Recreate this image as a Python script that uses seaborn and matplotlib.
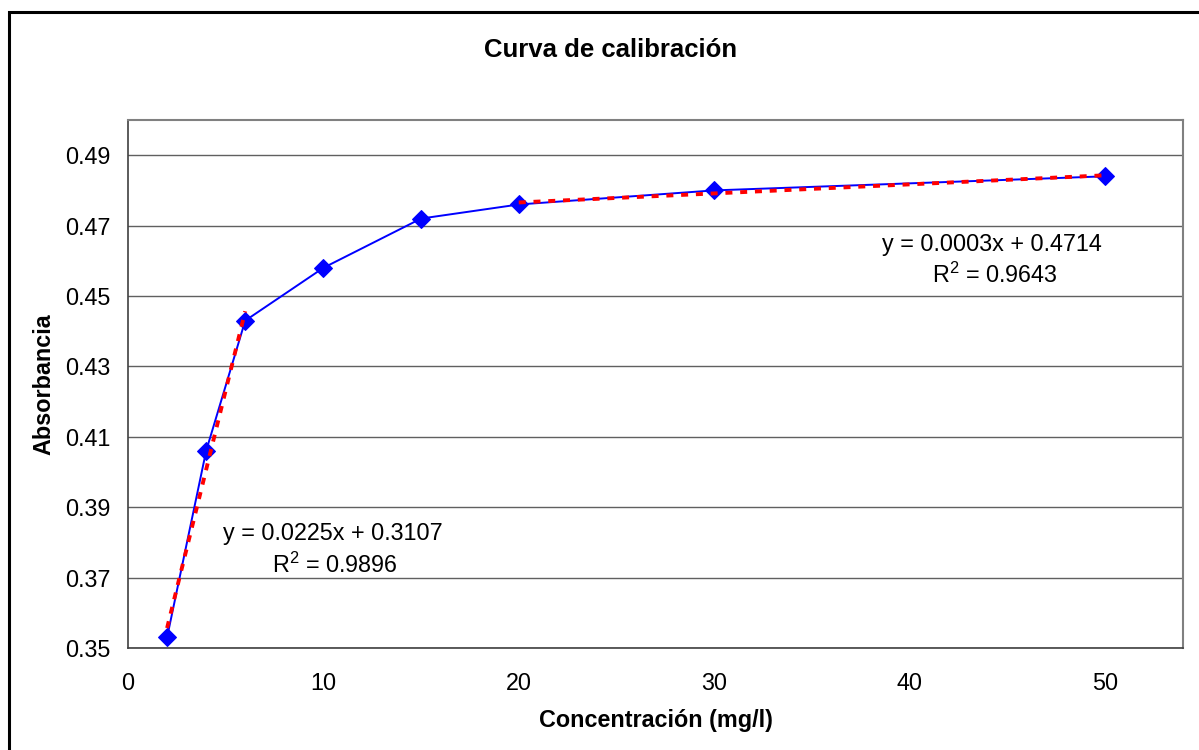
import numpy as np
import pandas as pd
import matplotlib
matplotlib.use("Agg")
import matplotlib.pyplot as plt
from matplotlib.patches import Rectangle
import seaborn as sns

# Calibration data
concentracion = [2, 4, 6, 10, 15, 20, 30, 50]
absorbancia = [0.353, 0.406, 0.443, 0.458, 0.472, 0.476, 0.480, 0.484]

# Points used for each linear trend line
tramo_bajo = [0, 1, 2]
tramo_alto = [5, 6, 7]

y_ticks = [0.35, 0.37, 0.39, 0.41, 0.43, 0.45, 0.47, 0.49]
x_ticks = [0, 10, 20, 30, 40, 50]

sns.set_style("white")
plt.rcParams["font.family"] = ["Liberation Sans", "DejaVu Sans"]
plt.rcParams["mathtext.fontset"] = "custom"
plt.rcParams["mathtext.rm"] = "Liberation Sans"
plt.rcParams["mathtext.it"] = "Liberation Sans"
plt.rcParams["text.color"] = "black"
plt.rcParams["axes.labelcolor"] = "black"
plt.rcParams["xtick.color"] = "black"
plt.rcParams["ytick.color"] = "black"

FS = 16.8

W, H = 1199, 750
fig = plt.figure(figsize=(W / 100, H / 100), dpi=100)
ax = fig.add_axes([128 / W, 1 - 648 / H, (1183 - 128) / W, (648 - 120) / H])

df = pd.DataFrame({"x": concentracion, "y": absorbancia})
sns.lineplot(data=df, x="x", y="y", ax=ax, color="#0000FF", linewidth=1.4,
             marker="D", markersize=9.5, markeredgecolor="#0000FF", zorder=3)


def ajuste(idx):
    xs = np.array([concentracion[i] for i in idx], dtype=float)
    ys = np.array([absorbancia[i] for i in idx], dtype=float)
    m, b = np.polyfit(xs, ys, 1)
    pred = m * xs + b
    r2 = 1 - np.sum((ys - pred) ** 2) / np.sum((ys - ys.mean()) ** 2)
    return xs, m, b, r2


etiquetas = []
for idx in (tramo_bajo, tramo_alto):
    xs, m, b, r2 = ajuste(idx)
    xt = np.array([xs.min(), xs.max()])
    tdf = pd.DataFrame({"x": xt, "y": m * xt + b})
    sns.lineplot(data=tdf, x="x", y="y", ax=ax, color="#FF0000", linewidth=2.8,
                 zorder=4)
    ax.lines[-1].set_dashes((1.8, 2.0))
    etiquetas.append((m, b, r2))

(m1, b1, r1), (m2, b2, r2_) = etiquetas
ax.text(10.5, 0.3824, f"y = {m1:.4f}x + {b1:.4f}", ha="center", va="center", fontsize=FS)
ax.text(10.6, 0.3736, f"R$^2$ = {r1:.4f}", ha="center", va="center", fontsize=FS)
ax.text(44.2, 0.4647, f"y = {m2:.4f}x + {b2:.4f}", ha="center", va="center", fontsize=FS)
ax.text(44.4, 0.4559, f"R$^2$ = {r2_:.4f}", ha="center", va="center", fontsize=FS)

ax.set_xlim(0, 54)
ax.set_ylim(0.35, 0.50)
ax.set_xticks(x_ticks)
ax.set_yticks(y_ticks)
ax.set_yticklabels([f"{v:.2f}" for v in y_ticks])
ax.tick_params(axis="both", direction="out", length=5, width=1, color="black",
               labelsize=FS)
ax.tick_params(axis="x", pad=12)
ax.tick_params(axis="y", pad=7.5)
ax.grid(axis="y", color="#606060", linewidth=1)
ax.grid(axis="x", visible=False)
ax.set_axisbelow(True)

for s in ("top", "right"):
    ax.spines[s].set_color("#808080")
    ax.spines[s].set_linewidth(1.5)
for s in ("left", "bottom"):
    ax.spines[s].set_color("#404040")
    ax.spines[s].set_linewidth(1.2)

ax.set_xlabel("Concentración (mg/l)", fontsize=FS, fontweight="bold", labelpad=10)
ax.set_ylabel("Absorbancia", fontsize=FS, fontweight="bold", labelpad=7)
fig.text(611 / W, 1 - 50 / H, "Curva de calibración", ha="center", va="center",
         fontsize=18.5, fontweight="bold")

# Chart area border
fig.patches.append(Rectangle((9 / W, -0.1), 1.2, 1 - 12 / H + 0.1, transform=fig.transFigure,
                             fill=False, edgecolor="black", linewidth=2.2))

fig.savefig("out.png", dpi=100)
